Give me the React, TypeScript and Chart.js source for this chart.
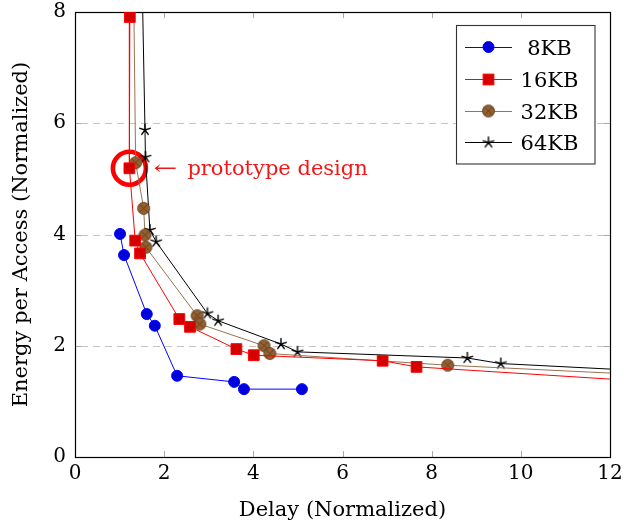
import React, { useEffect, useRef } from "react";
import { Chart, registerables } from "chart.js";

Chart.register(...registerables);

// ---------- data ----------
const seriesNames = ["8KB", "16KB", "32KB", "64KB"];
const delay8 = [1.01, 1.1, 1.61, 1.79, 2.29, 3.57, 3.79, 5.09];
const energy8 = [4.01, 3.63, 2.57, 2.36, 1.46, 1.35, 1.22, 1.22];
const delay16 = [1.23, 1.22, 1.35, 1.46, 2.34, 2.58, 3.62, 4.01, 6.9, 7.66, 13.0];
const energy16 = [7.91, 5.19, 3.89, 3.66, 2.48, 2.34, 1.94, 1.83, 1.73, 1.62, 1.35];
const delay32 = [1.3, 1.36, 1.54, 1.57, 1.59, 2.74, 2.8, 4.24, 4.37, 8.36, 13.0];
const energy32 = [9.5, 5.29, 4.47, 3.99, 3.77, 2.54, 2.39, 2.0, 1.86, 1.65, 1.47];
const delay64 = [1.5, 1.57, 1.58, 1.68, 1.82, 2.97, 3.21, 4.62, 4.99, 8.8, 9.55, 13.0];
const energy64 = [8.8, 5.88, 5.39, 4.08, 3.87, 2.58, 2.45, 2.03, 1.89, 1.78, 1.68, 1.54];
const xTicks = [0, 2, 4, 6, 8, 10, 12];
const yTicks = [0, 2, 4, 6, 8];
const xTitle = "Delay (Normalized)";
const yTitle = "Energy per Access (Normalized)";
const prototypePoint = { x: 1.22, y: 5.19 };
const annotationArrow = "←";
const annotationText = "prototype design";

const FONT = "'DejaVu Serif', serif";

const zip = (xs: number[], ys: number[]) => xs.map((x, i) => ({ x, y: ys[i] }));

function makeOtimes(r: number, fill: string, stroke: string) {
  const s = Math.ceil(2 * r + 3);
  const c = document.createElement("canvas");
  c.width = s;
  c.height = s;
  const g = c.getContext("2d")!;
  const cx = s / 2;
  g.beginPath();
  g.arc(cx, cx, r, 0, Math.PI * 2);
  g.fillStyle = fill;
  g.fill();
  g.lineWidth = 0.9;
  g.strokeStyle = stroke;
  g.stroke();
  const d = r * Math.SQRT1_2;
  g.beginPath();
  g.moveTo(cx - d, cx - d);
  g.lineTo(cx + d, cx + d);
  g.moveTo(cx + d, cx - d);
  g.lineTo(cx - d, cx + d);
  g.stroke();
  return c;
}

function makeStar(r: number, color: string) {
  const s = Math.ceil(2 * r + 3);
  const c = document.createElement("canvas");
  c.width = s;
  c.height = s;
  const g = c.getContext("2d")!;
  const cx = s / 2;
  g.strokeStyle = color;
  g.lineWidth = 1.4;
  g.lineCap = "round";
  g.beginPath();
  for (let k = 0; k < 5; k++) {
    const a = -Math.PI / 2 + (k * 2 * Math.PI) / 5;
    g.moveTo(cx, cx);
    g.lineTo(cx + r * Math.cos(a), cx + r * Math.sin(a));
  }
  g.stroke();
  return c;
}

const colors = {
  blueLine: "#0000ff",
  blueFill: "#0000dd",
  redLine: "#ff0000",
  redFill: "#d40000",
  brownLine: "#98734f",
  brownFill: "#946030",
  brownStroke: "#5e3c1c",
  black: "#000000",
};

export default function App() {
  const ref = useRef<HTMLCanvasElement>(null);

  useEffect(() => {
    document.body.style.margin = "0";
    const otimes = makeOtimes(6, colors.brownFill, colors.brownStroke);
    const star = makeStar(5.5, colors.black);

    const datasets: any[] = [
      {
        label: seriesNames[0],
        data: zip(delay8, energy8),
        borderColor: colors.blueLine,
        backgroundColor: colors.blueFill,
        pointBorderColor: colors.blueLine,
        pointStyle: "circle",
        pointRadius: 5.5,
        pointBorderWidth: 1,
        borderWidth: 1,
        showLine: true,
      },
      {
        label: seriesNames[1],
        data: zip(delay16, energy16),
        borderColor: colors.redLine,
        backgroundColor: colors.redFill,
        pointBorderColor: colors.redLine,
        pointStyle: "rect",
        pointRadius: 7.6,
        pointBorderWidth: 1,
        borderWidth: 1,
        showLine: true,
      },
      {
        label: seriesNames[2],
        data: zip(delay32, energy32),
        borderColor: colors.brownLine,
        backgroundColor: colors.brownFill,
        pointStyle: otimes,
        pointRadius: 6,
        borderWidth: 1,
        showLine: true,
      },
      {
        label: seriesNames[3],
        data: zip(delay64, energy64),
        borderColor: colors.black,
        backgroundColor: colors.black,
        pointStyle: star,
        pointRadius: 5.5,
        borderWidth: 1,
        showLine: true,
      },
    ];

    const plugin = {
      id: "pgfDecor",
      beforeDatasetsDraw(chart: any) {
        const { ctx, chartArea: a, scales } = chart;
        const xs = scales.x;
        const ys = scales.y;
        ctx.save();
        // dashed horizontal grid
        ctx.lineWidth = 1;
        ctx.strokeStyle = "#c4c4c4";
        ctx.setLineDash([7, 5]);
        yTicks.forEach((v) => {
          if (v <= ys.min || v >= ys.max) return;
          const y = Math.round(ys.getPixelForValue(v)) + 0.5;
          ctx.beginPath();
          ctx.moveTo(a.left + 6, y);
          ctx.lineTo(a.right - 6, y);
          ctx.stroke();
        });
        ctx.setLineDash([]);
        // inward ticks
        ctx.strokeStyle = "#a8a8a8";
        yTicks.forEach((v) => {
          if (v <= ys.min || v >= ys.max) return;
          const y = Math.round(ys.getPixelForValue(v)) + 0.5;
          ctx.beginPath();
          ctx.moveTo(a.left, y);
          ctx.lineTo(a.left + 6, y);
          ctx.moveTo(a.right - 6, y);
          ctx.lineTo(a.right, y);
          ctx.stroke();
        });
        xTicks.forEach((v) => {
          if (v <= xs.min || v >= xs.max) return;
          const x = Math.round(xs.getPixelForValue(v)) + 0.5;
          ctx.beginPath();
          ctx.moveTo(x, a.top);
          ctx.lineTo(x, a.top + 6);
          ctx.moveTo(x, a.bottom - 6);
          ctx.lineTo(x, a.bottom);
          ctx.stroke();
        });
        // frame
        ctx.strokeStyle = "#000";
        ctx.lineWidth = 1.2;
        ctx.strokeRect(a.left + 0.5, a.top + 0.5, a.right - a.left, a.bottom - a.top);
        // prototype ring
        const px = xs.getPixelForValue(prototypePoint.x);
        const py = ys.getPixelForValue(prototypePoint.y);
        ctx.beginPath();
        ctx.arc(px, py, 16.5, 0, Math.PI * 2);
        ctx.strokeStyle = "#ff0000";
        ctx.lineWidth = 4.6;
        ctx.stroke();
        ctx.restore();
      },
      afterDatasetsDraw(chart: any) {
        const { ctx, chartArea: a, scales } = chart;
        const xs = scales.x;
        const ys = scales.y;
        ctx.save();
        // annotation text
        const px = xs.getPixelForValue(prototypePoint.x);
        const py = ys.getPixelForValue(prototypePoint.y);
        ctx.fillStyle = "#f01818";
        ctx.font = `21px ${FONT}`;
        ctx.textAlign = "left";
        ctx.textBaseline = "alphabetic";
        ctx.save();
        ctx.translate(px + 24, py + 7);
        ctx.scale(1.35, 1);
        ctx.fillText(annotationArrow, 0, 0);
        ctx.restore();
        ctx.fillText(annotationText, px + 58, py + 7);

        // legend
        const bw = 138.5;
        const bh = 138.5;
        const bx = Math.round(a.right - 16 - bw) + 0.5;
        const by = Math.round(a.top + 13) + 0.5;
        ctx.fillStyle = "#fff";
        ctx.fillRect(bx, by, bw, bh);
        ctx.strokeStyle = "#333";
        ctx.lineWidth = 1.1;
        ctx.strokeRect(bx, by, bw, bh);
        const rowY = [21, 53.5, 85, 116.5];
        chart.data.datasets.forEach((ds: any, i: number) => {
          const cy = by + rowY[i];
          const x0 = bx + 8.5;
          const x1 = bx + 55.5;
          const xm = (x0 + x1) / 2;
          ctx.strokeStyle = ds.borderColor;
          ctx.lineWidth = 1;
          ctx.beginPath();
          ctx.moveTo(x0, Math.round(cy) + 0.5);
          ctx.lineTo(x1, Math.round(cy) + 0.5);
          ctx.stroke();
          const st = ds.pointStyle;
          if (typeof st === "string") {
            ctx.fillStyle = ds.backgroundColor;
            ctx.strokeStyle = ds.pointBorderColor || ds.borderColor;
            ctx.lineWidth = 1;
            if (st === "circle") {
              ctx.beginPath();
              ctx.arc(xm, cy + 0.5, ds.pointRadius, 0, Math.PI * 2);
              ctx.fill();
              ctx.stroke();
            } else {
              const h = ds.pointRadius * Math.SQRT1_2;
              ctx.fillRect(xm - h, cy + 0.5 - h, 2 * h, 2 * h);
              ctx.strokeRect(xm - h, cy + 0.5 - h, 2 * h, 2 * h);
            }
          } else {
            ctx.drawImage(st, xm - st.width / 2, cy + 0.5 - st.height / 2);
          }
          ctx.fillStyle = "#000";
          ctx.font = `21px ${FONT}`;
          ctx.textAlign = "center";
          ctx.textBaseline = "alphabetic";
          ctx.fillText(ds.label, bx + 93, cy + 8);
        });
        ctx.restore();
      },
    };

    const tickFont = { family: FONT, size: 20 };
    const titleFont = { family: FONT, size: 21 };

    const chart = new Chart(ref.current!, {
      type: "scatter",
      data: { datasets },
      plugins: [plugin],
      options: {
        animation: false,
        responsive: false,
        devicePixelRatio: 1,
        layout: { padding: { top: 12, right: 13, left: 0, bottom: 0 } },
        plugins: {
          legend: { display: false },
          tooltip: { enabled: false },
        },
        scales: {
          x: {
            type: "linear",
            min: 0,
            max: 12,
            afterBuildTicks: (s: any) => {
              s.ticks = xTicks.map((v) => ({ value: v }));
            },
            afterFit: (s: any) => {
              s.height = 72;
              s.paddingLeft = 0;
              s.paddingRight = 0;
            },
            grid: { display: false, drawTicks: false },
            border: { display: false },
            ticks: { font: tickFont, color: "#000", padding: 5, maxRotation: 0, autoSkip: false },
            title: {
              display: true,
              text: xTitle,
              font: titleFont,
              color: "#000",
              padding: { top: 0, bottom: 6 },
            },
          },
          y: {
            type: "linear",
            min: 0,
            max: 8,
            afterBuildTicks: (s: any) => {
              s.ticks = yTicks.map((v) => ({ value: v }));
            },
            afterFit: (s: any) => {
              s.width = 75;
              s.paddingTop = 0;
              s.paddingBottom = 0;
            },
            grid: { display: false, drawTicks: false },
            border: { display: false },
            ticks: { font: tickFont, color: "#000", padding: 9, autoSkip: false },
            title: {
              display: true,
              text: yTitle,
              font: titleFont,
              color: "#000",
              padding: { top: 9, bottom: 0 },
            },
          },
        },
      } as any,
    });
    return () => chart.destroy();
  }, []);

  return (
    <div style={{ position: "absolute", left: 0, top: 0, width: 623, height: 529 }}>
      <canvas ref={ref} width={623} height={529} style={{ width: 623, height: 529 }} />
    </div>
  );
}
